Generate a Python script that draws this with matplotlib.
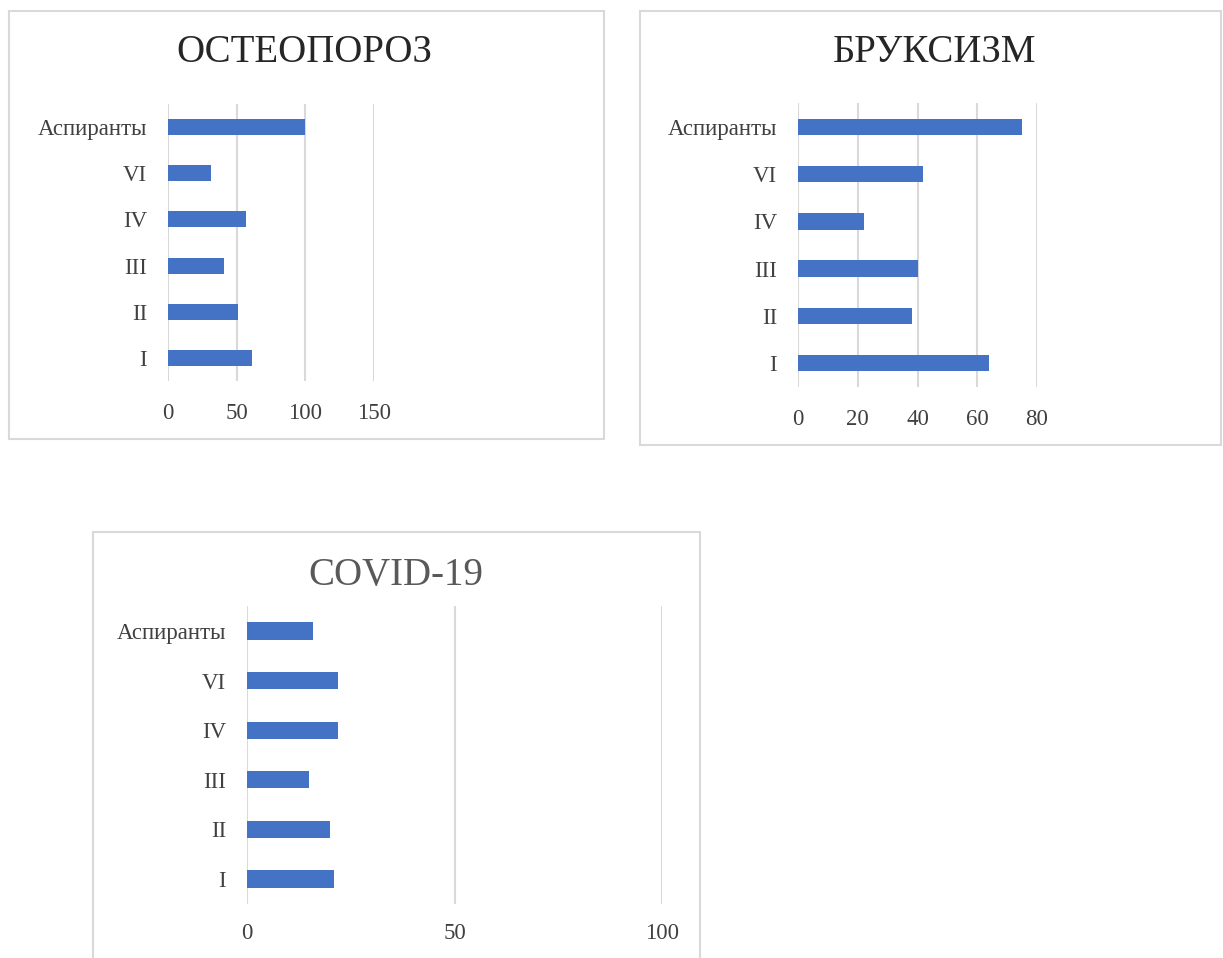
import matplotlib.pyplot as plt
from matplotlib.patches import Rectangle

plt.rcParams['font.family'] = ['Liberation Serif', 'DejaVu Serif']

categories = ['I', 'II', 'III', 'IV', 'VI', 'Аспиранты']

osteo_values = [61, 51, 41, 57, 31, 100]
brux_values = [64, 38, 40, 22, 42, 75]
covid_values = [21, 20, 15, 22, 22, 16]

osteo_ticks = [0, 50, 100, 150]
brux_ticks = [0, 20, 40, 60, 80]
covid_ticks = [0, 50, 100]

W, H = 1223, 958
BAR = '#4472C4'
GRID = '#D9D9D9'
TEXT = '#404040'

fig = plt.figure(figsize=(W / 100, H / 100), dpi=100)


def frame(x0, y0, x1, y1):
    # chart area border, pixel coords from top-left
    r = Rectangle((x0 / W, 1 - y1 / H), (x1 - x0) / W, (y1 - y0) / H,
                  transform=fig.transFigure, fill=False,
                  edgecolor=GRID, linewidth=1.5)
    fig.patches.append(r)


def panel(title, values, ticks, left, right, top_bar, bot_bar,
          title_xy, title_color, xpad):
    step = (bot_bar - top_bar) / (len(categories) - 1)
    top = top_bar - step / 2
    bottom = bot_bar + step / 2
    ax = fig.add_axes([left / W, 1 - bottom / H, (right - left) / W, (bottom - top) / H])
    ax.barh(range(len(categories)), values, height=0.35, color=BAR, zorder=3)
    ax.set_xlim(ticks[0], ticks[-1])
    ax.set_ylim(-0.5, len(categories) - 0.5)
    ax.set_xticks(ticks)
    ax.set_yticks(range(len(categories)))
    ax.set_yticklabels(categories)
    ax.grid(axis='x', color=GRID, linewidth=1.5, zorder=0)
    ax.set_axisbelow(True)
    for s in ax.spines.values():
        s.set_visible(False)
    ax.tick_params(axis='y', length=0, pad=15, labelsize=16.5, labelcolor=TEXT)
    ax.tick_params(axis='x', length=0, pad=xpad, labelsize=16.5, labelcolor=TEXT)
    ax.patch.set_alpha(0)
    fig.text(title_xy[0] / W, 1 - title_xy[1] / H, title, ha='center', va='center',
             fontsize=28, color=title_color)
    return ax


frame(9, 11, 604, 439)
panel('ОСТЕОПОРОЗ', osteo_values, osteo_ticks, 168, 374, 127, 358,
      (304, 52), '#262626', 16)

frame(640, 11, 1221, 445)
panel('БРУКСИЗМ', brux_values, brux_ticks, 798, 1037, 127, 363,
      (935, 53), '#262626', 16)

frame(93, 532, 700, 975)
panel('COVID-19', covid_values, covid_ticks, 247, 662, 631, 879,
      (396, 575), '#595959', 14)

fig.savefig('out.png', dpi=100)
